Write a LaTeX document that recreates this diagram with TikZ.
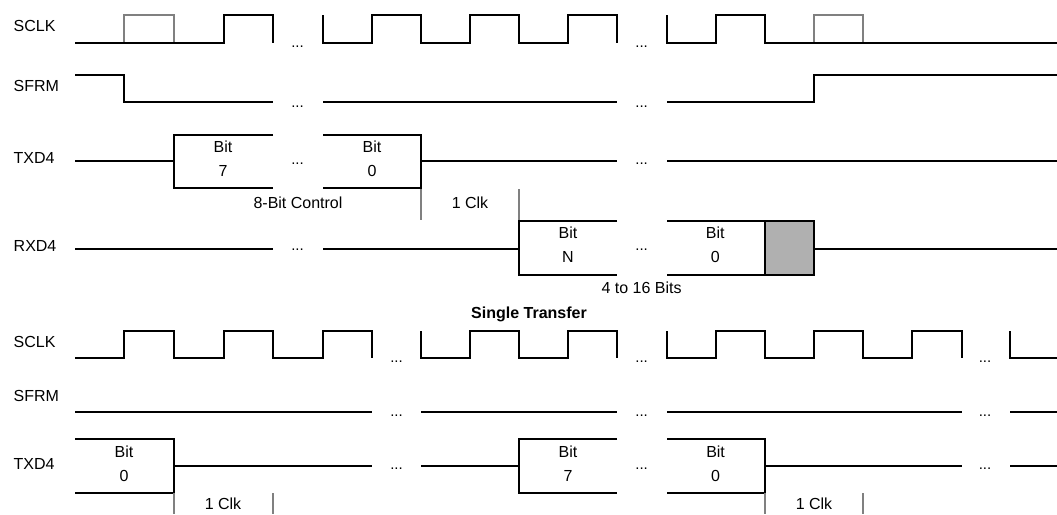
\documentclass[tikz,border=0pt]{standalone}
\usepackage{fontspec}
\setmainfont{Liberation Sans}
\usepackage{xcolor}

\definecolor{clkgray}{gray}{0.5}
\definecolor{fillgray}{gray}{0.69}

\tikzset{
  wave/.style={draw=black, line width=1.9pt, line cap=butt, line join=miter},
  ghost/.style={draw=clkgray, line width=1.9pt},
  sig/.style={anchor=west, inner sep=0pt, font=\fontsize{16}{18}\selectfont},
  txt/.style={inner sep=0pt, font=\fontsize{16}{18}\selectfont},
  gap/.style={anchor=base, inner sep=0pt, font=\fontsize{15}{18}\selectfont}
}

\begin{document}
\begin{tikzpicture}[x=1pt, y=-1pt]
\useasboundingbox (0,0) rectangle (1057,514);

% upper group
\node[sig] (sclka) at (13.5,26) {SCLK};
\node[sig] (sfrma) at (13.5,86) {SFRM};
\node[sig] (txda) at (13.5,158) {TXD4};
\node[sig] (rxda) at (13.5,246) {RXD4};

\draw[ghost] (124,43) |- (174,15) -- (174,43);
\draw[ghost] (814,43) |- (863,15) -- (863,43);
\draw[wave] (75,43) -- (224,43) -- (224,15) -- (273,15) -- (273,43);
\draw[wave] (323,15) -- (323,43) -- (372,43) -- (372,15) -- (421,15) -- (421,43) -- (470,43) -- (470,15) -- (519,15) -- (519,43) -- (568,43) -- (568,15) -- (617,15) -- (617,43);
\draw[wave] (667,15) -- (667,43) -- (716,43) -- (716,15) -- (765,15) -- (765,43) -- (1057,43);
\node[gap] (da1) at (297.5,47) {...};
\node[gap] (da2) at (641.6,47) {...};

\draw[wave] (75,75) -- (124,75) -- (124,102) -- (273,102);
\draw[wave] (323,102) -- (617,102);
\draw[wave] (667,102) -- (814,102) -- (814,75) -- (1057,75);
\node[gap] (db1) at (297.5,107) {...};
\node[gap] (db2) at (641.6,107) {...};

\draw[wave] (75,161) -- (174,161);
\draw[wave] (273,135) -- (174,135) -- (174,188) -- (273,188);
\draw[wave] (323,135) -- (421,135) -- (421,188) -- (323,188);
\draw[wave] (421,161) -- (617,161);
\draw[wave] (667,161) -- (1057,161);
\node[gap] (dc1) at (297.5,164) {...};
\node[gap] (dc2) at (641.6,164) {...};
\node[txt] (bita7) at (223,147) {Bit};
\node[txt] (vala7) at (223,171.4) {7};
\node[txt] (bita0) at (372,147) {Bit};
\node[txt] (vala0) at (372,171.4) {0};
\node[txt] (ctrl) at (298,203) {8-Bit Control};
\node[txt] (clka) at (470,203) {1 Clk};
\draw[ghost] (421,189) -- (421,220);
\draw[ghost] (519,189) -- (519,220);

\draw[wave, fill=fillgray] (765,221) rectangle (814,275);
\draw[wave] (75,249) -- (273,249);
\draw[wave] (323,249) -- (519,249);
\draw[wave] (617,221) -- (519,221) -- (519,275) -- (617,275);
\draw[wave] (667,221) -- (765,221);
\draw[wave] (667,275) -- (765,275);
\draw[wave] (814,249) -- (1057,249);
\node[gap] (dd1) at (297.5,250) {...};
\node[gap] (dd2) at (641.6,250) {...};
\node[txt] (bitrn) at (568,233) {Bit};
\node[txt] (valrn) at (568,257) {N};
\node[txt] (bitr0) at (715.3,233) {Bit};
\node[txt] (valr0) at (715.3,257) {0};
\node[txt] (bits) at (641.6,288) {4 to 16 Bits};

\node[txt, font=\fontsize{16}{18}\selectfont\bfseries] (title) at (529,314) {Single Transfer};

% lower group
\node[sig] (sclkb) at (13.5,342) {SCLK};
\node[sig] (sfrmb) at (13.5,395.6) {SFRM};
\node[sig] (txdb) at (13.5,464) {TXD4};

\draw[wave] (75,358) -- (124,358) -- (124,331) -- (174,331) -- (174,358) -- (224,358) -- (224,331) -- (273,331) -- (273,358) -- (323,358) -- (323,331) -- (372,331) -- (372,358);
\draw[wave] (421,331) -- (421,358) -- (470,358) -- (470,331) -- (519,331) -- (519,358) -- (568,358) -- (568,331) -- (617,331) -- (617,358);
\draw[wave] (667,331) -- (667,358) -- (716,358) -- (716,331) -- (765,331) -- (765,358) -- (814,358) -- (814,331) -- (863,331) -- (863,358) -- (912,358) -- (912,331) -- (962,331) -- (962,358);
\draw[wave] (1010,331) -- (1010,358) -- (1057,358);
\node[gap] (de1) at (396.5,362) {...};
\node[gap] (de2) at (641.6,362) {...};
\node[gap] (de3) at (985,362) {...};

\draw[wave] (75,412) -- (372,412);
\draw[wave] (421,412) -- (617,412);
\draw[wave] (667,412) -- (962,412);
\draw[wave] (1010,412) -- (1057,412);
\node[gap] (df1) at (396.5,416) {...};
\node[gap] (df2) at (641.6,416) {...};
\node[gap] (df3) at (985,416) {...};

\draw[wave] (75,439) -- (174,439) -- (174,493) -- (75,493);
\draw[wave] (174,466) -- (372,466);
\draw[wave] (421,466) -- (519,466);
\draw[wave] (617,439) -- (519,439) -- (519,493) -- (617,493);
\draw[wave] (667,439) -- (765,439) -- (765,493) -- (667,493);
\draw[wave] (765,466) -- (962,466);
\draw[wave] (1010,466) -- (1057,466);
\node[gap] (dg1) at (396.5,469) {...};
\node[gap] (dg2) at (641.6,469) {...};
\node[gap] (dg3) at (985,469) {...};
\node[txt] (bitb0) at (124,451.7) {Bit};
\node[txt] (valb0) at (124,476) {0};
\node[txt] (bitb7) at (568,451.7) {Bit};
\node[txt] (valb7) at (568,476) {7};
\node[txt] (bitc0) at (715.6,451.7) {Bit};
\node[txt] (valc0) at (715.6,476) {0};

\draw[ghost] (174,493) -- (174,514);
\draw[ghost] (273,493) -- (273,514);
\node[txt] (clkb) at (223,504) {1 Clk};
\draw[ghost] (765,493) -- (765,514);
\draw[ghost] (863,493) -- (863,514);
\node[txt] (clkc) at (814,504) {1 Clk};
\end{tikzpicture}
\end{document}
